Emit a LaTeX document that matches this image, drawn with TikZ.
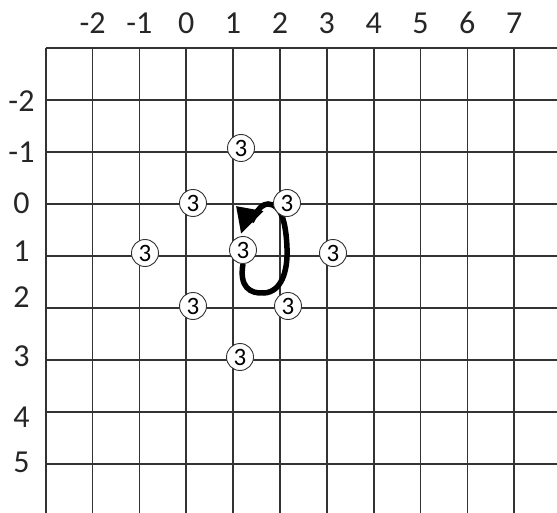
\documentclass[tikz,border=0pt]{standalone}
\usepackage{fontspec}
\setmainfont{Carlito}
\newfontfamily\labfont{Carlito}
\usetikzlibrary{arrows.meta}
\pgfdeclarelayer{bg}
\pgfsetlayers{bg,main}
\begin{document}
\begin{tikzpicture}[x=1pt,y=-1pt,
  gridline/.style={line width=1.7pt,draw=black!80},
  axlabel/.style={inner sep=0pt,font=\labfont\fontsize{32pt}{32pt}\selectfont,text=black!85},
  threec/.style={circle,draw=black!80,line width=0.9pt,fill=white,inner sep=0pt,minimum size=27pt,font=\labfont\fontsize{25pt}{25pt}\selectfont},
  loopline/.style={line width=5.5pt,draw=black,-{Triangle[length=23pt,width=30pt]}}]
\useasboundingbox (0,0) rectangle (557,513);
% column labels
\foreach \v [count=\k from 0] in {-2,-1,0,1,2,3,4,5,6,7}
  \node[axlabel] (col\k) at ({45.7+46.85*(\k+1)},23) {\v};
% row labels
\foreach \v/\yy [count=\k] in {-2/101,-1/152.5,0/203,1/251,2/297.5,3/356,4/417.5,5/462.5}
  \node[axlabel] (row\k) at (21.5,\yy) {\v};
% circles
\node[threec] (c1m1) at (241,148) {3};
\node[threec] (c00) at (193,203) {3};
\node[threec] (c20) at (287,203) {3};
\node[threec] (cm11) at (145,253) {3};
\node[threec] (c11) at (243,250) {3};
\node[threec] (c31) at (333,253) {3};
\node[threec] (c02) at (193,306) {3};
\node[threec] (c22) at (288,306) {3};
\node[threec] (c13) at (240,357) {3};
\coordinate (tip) at (236,206);
\begin{pgfonlayer}{bg}
\foreach \k in {0,...,10}
  \draw[gridline] ({45.7+46.85*\k},48) -- ({45.7+46.85*\k},513);
\foreach \j in {0,...,8}
  \draw[gridline] (45.7,{48+52*\j}) -- (557,{48+52*\j});
\draw[loopline] (c11.south) .. controls (239,287) and (250,294) .. (264,293)
  .. controls (281,292) and (288,272) .. (287,248)
  .. controls (286,222) and (281,204) .. (268,204)
  .. controls (258,204) and (252,222) .. (tip);
\end{pgfonlayer}
\end{tikzpicture}
\end{document}
